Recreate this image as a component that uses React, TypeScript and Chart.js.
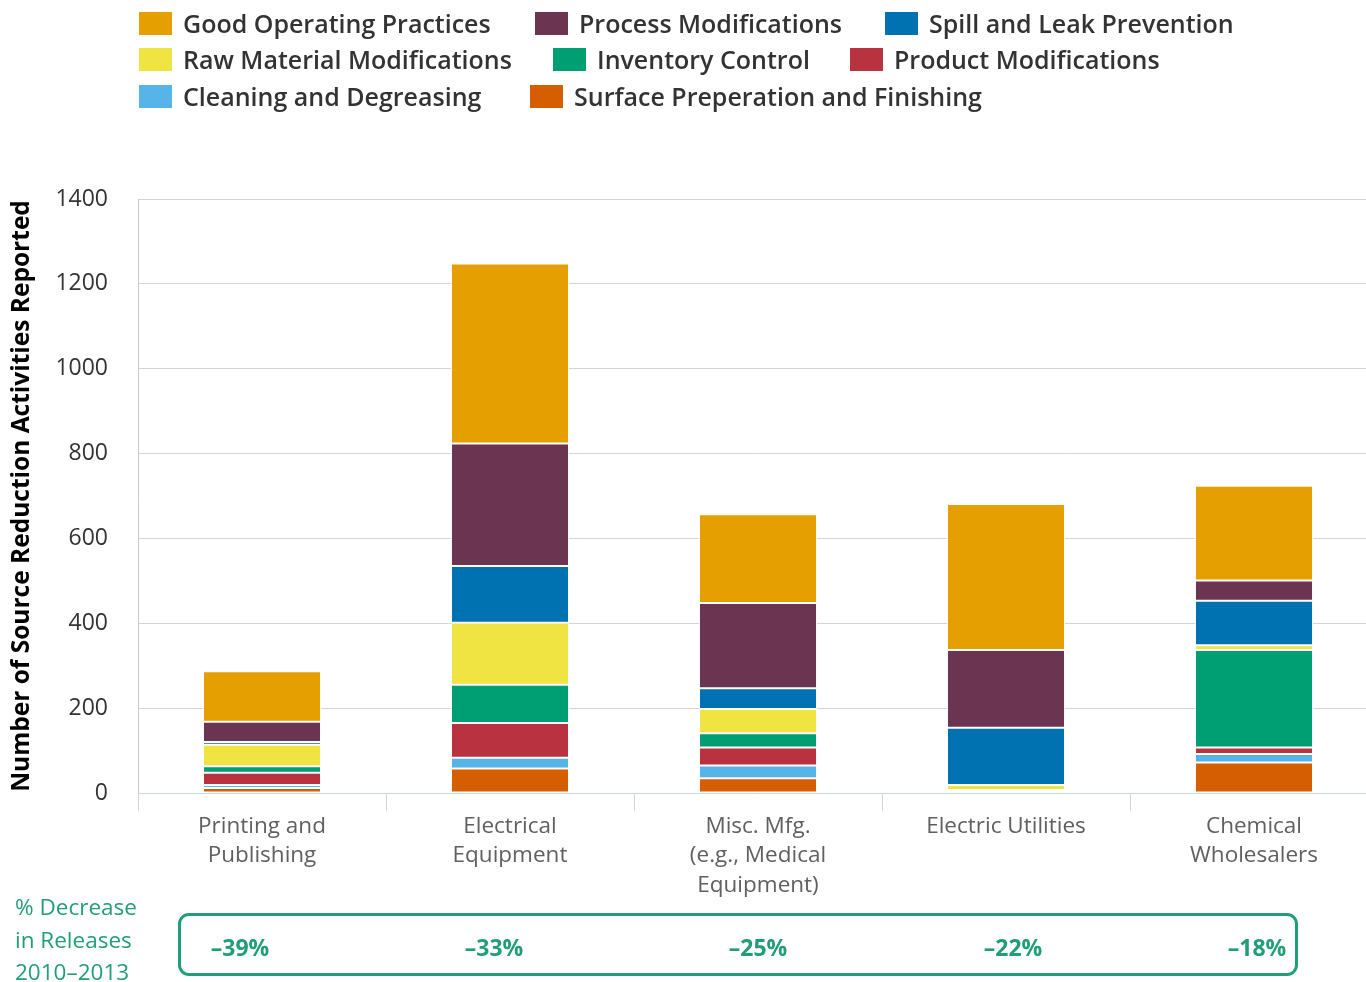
import React, { useEffect, useRef } from "react";
import { Chart, registerables } from "chart.js";

Chart.register(...registerables);

// ---------- data ----------
const categories: string[][] = [
  ["Printing and", "Publishing"],
  ["Electrical", "Equipment"],
  ["Misc. Mfg.", "(e.g., Medical", "Equipment)"],
  ["Electric Utilities"],
  ["Chemical", "Wholesalers"],
];

const seriesNames = [
  "Good Operating Practices",
  "Process Modifications",
  "Spill and Leak Prevention",
  "Raw Material Modifications",
  "Inventory Control",
  "Product Modifications",
  "Cleaning and Degreasing",
  "Surface Preperation and Finishing",
];

const goodOperatingPractices = [119, 424, 209, 344, 223];
const processModifications = [48, 289, 201, 183, 48];
const spillAndLeakPrevention = [6, 134, 49, 135, 105];
const rawMaterialModifications = [51, 146, 57, 12, 11];
const inventoryControl = [15, 90, 34, 1, 230];
const productModifications = [29, 82, 42, 2, 15];
const cleaningAndDegreasing = [7, 25, 30, 2, 20];
const surfacePreparation = [12, 58, 35, 2, 72];

const decreaseLabels = ["–39%", "–33%", "–25%", "–22%", "–18%"];
const decreaseTitle = ["% Decrease", "in Releases", "2010–2013"];
const yTickValues = [0, 200, 400, 600, 800, 1000, 1200, 1400];
const yAxisTitle = "Number of Source Reduction Activities Reported";

// ---------- styles ----------
const colors = [
  "#E69F00",
  "#6B3552",
  "#0072B2",
  "#F0E442",
  "#009E73",
  "#B8333F",
  "#56B4E9",
  "#D55E00",
];
const FONT = "'Open Sans', 'Noto Sans', sans-serif";
const GREEN = "#1F9E77";

const legendPos = [
  [139, 12],
  [535, 12],
  [885, 12],
  [139, 48],
  [553, 48],
  [850, 48],
  [139, 85],
  [530, 85],
];
const decreaseCenters = [240, 494, 758, 1013, 1257];

export default function App() {
  const canvasRef = useRef<HTMLCanvasElement | null>(null);

  useEffect(() => {
    if (!canvasRef.current) return;
    const seriesData = [
      goodOperatingPractices,
      processModifications,
      spillAndLeakPrevention,
      rawMaterialModifications,
      inventoryControl,
      productModifications,
      cleaningAndDegreasing,
      surfacePreparation,
    ];
    // stack bottom-up: last legend entry at the bottom
    const datasets = seriesNames
      .map((name, i) => ({
        label: name,
        data: seriesData[i],
        backgroundColor: colors[i],
        borderColor: "#ffffff",
        borderWidth: 1,
        borderSkipped: false as const,
        barPercentage: 0.476,
        categoryPercentage: 1,
      }))
      .reverse();

    const chart = new Chart(canvasRef.current, {
      type: "bar",
      data: { labels: categories, datasets },
      options: {
        animation: false,
        responsive: false,
        maintainAspectRatio: false,
        layout: { padding: { top: 199, right: 2, left: 0, bottom: 0 } },
        plugins: {
          legend: { display: false },
          tooltip: { enabled: false },
        },
        scales: {
          x: {
            stacked: true,
            grid: {
              display: true,
              drawOnChartArea: false,
              drawTicks: true,
              tickLength: 18,
              color: "#ccd6eb",
              lineWidth: 1,
            },
            border: { display: true, color: "#ccd6eb", width: 1 },
            ticks: {
              color: "#606060",
              font: { family: FONT, size: 22.5, lineHeight: 1.3 },
              padding: 1,
              maxRotation: 0,
              autoSkip: false,
            },
            afterFit: (s: any) => {
              s.height = 189;
            },
          },
          y: {
            stacked: true,
            min: 0,
            max: 1400,
            afterBuildTicks: (s: any) => {
              s.ticks = yTickValues.map((v) => ({ value: v }));
            },
            ticks: {
              color: "#333333",
              font: { family: FONT, size: 23 },
              padding: 30,
              callback: (v: any) => String(v),
            },
            grid: { color: "#d4d4d4", lineWidth: 1, drawTicks: false },
            border: { display: true, color: "#c8c8c8", width: 1 },
            title: {
              display: true,
              text: yAxisTitle,
              color: "#000000",
              font: { family: FONT, size: 24.5, weight: "bold", lineHeight: 1.2 },
              padding: { top: 7, bottom: 0 },
            },
            afterFit: (s: any) => {
              s.width = 138;
            },
          },
        },
      },
    });
    return () => chart.destroy();
  }, []);

  return (
    <div
      style={{
        position: "absolute",
        left: 0,
        top: 0,
        width: 1366,
        height: 982,
        overflow: "hidden",
        background: "#ffffff",
        fontFamily: FONT,
      }}
    >
      <canvas
        ref={canvasRef}
        width={1380}
        height={982}
        style={{ position: "absolute", left: 0, top: 0, width: 1380, height: 982 }}
      />
      {seriesNames.map((name, i) => (
        <div
          key={name}
          style={{
            position: "absolute",
            left: legendPos[i][0],
            top: legendPos[i][1],
            height: 23,
            display: "flex",
            alignItems: "center",
            whiteSpace: "nowrap",
          }}
        >
          <span
            style={{
              display: "inline-block",
              width: 33,
              height: 23,
              background: colors[i],
              marginRight: 11,
              flex: "none",
            }}
          />
          <span style={{ fontSize: 25, fontWeight: 600, color: "#333333", lineHeight: "23px" }}>
            {name}
          </span>
        </div>
      ))}
      <div
        style={{
          position: "absolute",
          left: 15,
          top: 891,
          color: GREEN,
          fontSize: 22.5,
          lineHeight: "32.5px",
        }}
      >
        {decreaseTitle.map((t) => (
          <div key={t}>{t}</div>
        ))}
      </div>
      <div
        style={{
          position: "absolute",
          left: 178,
          top: 913,
          width: 1114,
          height: 57,
          border: `3px solid ${GREEN}`,
          borderRadius: 11,
        }}
      />
      {decreaseLabels.map((t, i) => (
        <div
          key={t}
          style={{
            position: "absolute",
            left: decreaseCenters[i] - 60,
            width: 120,
            top: 932,
            textAlign: "center",
            color: GREEN,
            fontSize: 23,
            fontWeight: 700,
            lineHeight: "30px",
          }}
        >
          {t}
        </div>
      ))}
    </div>
  );
}
